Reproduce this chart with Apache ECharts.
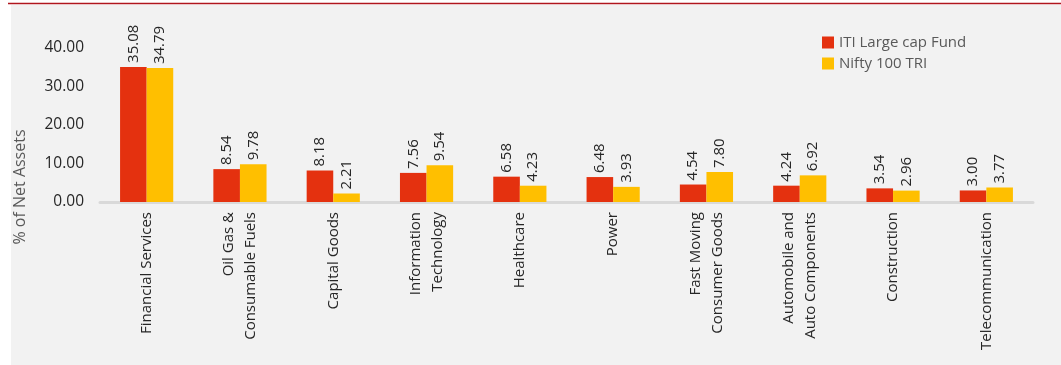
<!DOCTYPE html>
<html><head><meta charset="utf-8">
<script src="https://cdn.jsdelivr.net/npm/echarts@6/dist/echarts.min.js"></script>
<style>html,body{margin:0;padding:0;background:#fff}#c{width:1061px;height:365px}</style>
</head><body><div id="c"></div>
<script>
const categories = ["Financial Services","Oil Gas &\nConsumable Fuels","Capital Goods","Information\nTechnology","Healthcare","Power","Fast Moving\nConsumer Goods","Automobile and\nAuto Components","Construction","Telecommunication"];
const fundValues = [35.08, 8.54, 8.18, 7.56, 6.58, 6.48, 4.54, 4.24, 3.54, 3.00];
const indexValues = [34.79, 9.78, 2.21, 9.54, 4.23, 3.93, 7.80, 6.92, 2.96, 3.77];
const seriesNames = ["ITI Large cap Fund", "Nifty 100 TRI"];
const yTicks = [0, 10, 20, 30, 40];
const FONT = "Open Sans";
const chart = echarts.init(document.getElementById('c'));
const labelCfg = {show:true, position:'top', rotate:90, align:'left', verticalAlign:'middle', distance:4,
  fontFamily:FONT, fontSize:15, color:'#262626', formatter:p=>p.value.toFixed(2)};
chart.setOption({
  animation:false,
  backgroundColor:'#ffffff',
  graphic:[
    {type:'rect', shape:{x:11,y:5,width:1050,height:360}, style:{fill:'#f2f2f2'}, z:-10},
    {type:'line', shape:{x1:8,y1:3.5,x2:1061,y2:3.5}, style:{stroke:'#b0161e',lineWidth:1.5}, z:-5},
    {type:'text', x:20, y:187, rotation:Math.PI/2, style:{text:'% of Net Assets', font:'16px "Open Sans"', fill:'#595959', align:'center', verticalAlign:'middle'}}
  ],
  legend:{
    orient:'vertical', left:817, top:30, itemWidth:12, itemHeight:12, itemGap:6, icon:'rect',
    textStyle:{fontFamily:FONT, fontSize:15, color:'#595959'},
    data:seriesNames
  },
  grid:{left:100, right:28, top:48, bottom:163},
  xAxis:{type:'category', data:categories,
    axisLine:{lineStyle:{color:'#d9d9d9', width:3}},
    axisTick:{show:false},
    axisLabel:{rotate:90, interval:0, margin:10, fontFamily:FONT, fontSize:15, color:'#262626', lineHeight:22, align:'right'}
  },
  yAxis:{type:'value', min:yTicks[0], max:yTicks[yTicks.length-1], interval:10,
    splitLine:{show:false}, axisLine:{show:false}, axisTick:{show:false},
    axisLabel:{margin:16, fontFamily:FONT, fontSize:15.5, color:'#262626', formatter:v=>v.toFixed(2)}
  },
  series:[
    {name:seriesNames[0], type:'bar', data:fundValues, barGap:'0%', barCategoryGap:'43%', itemStyle:{color:'#e4310f'}, label:labelCfg},
    {name:seriesNames[1], type:'bar', data:indexValues, itemStyle:{color:'#ffbf00'}, label:labelCfg}
  ]
});
</script></body></html>
